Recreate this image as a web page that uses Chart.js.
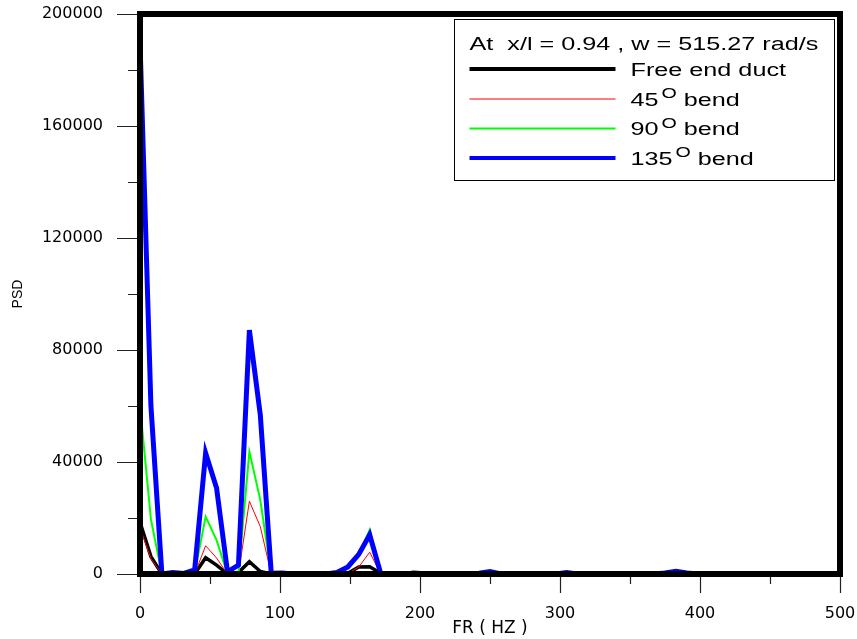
<!DOCTYPE html>
<html>
<head>
<meta charset="utf-8">
<title>PSD</title>
<script src="https://cdn.jsdelivr.net/npm/chart.js@4.4.0/dist/chart.umd.min.js"></script>
<style>
  html, body { margin: 0; padding: 0; background: #fff; }
  canvas { display: block; }
</style>
</head>
<body>
<canvas id="psd" width="857" height="639"></canvas>
<script>
/* ---------- data ---------- */
const freqHz = [
  0, 7.81, 15.63, 23.44, 31.25, 39.06, 46.88, 54.69, 62.5, 70.31,
  78.13, 85.94, 93.75, 101.56, 109.38, 117.19, 125, 132.81, 140.63, 148.44,
  156.25, 164.06, 171.88, 179.69, 187.5, 195.31, 203.13, 210.94, 218.75, 226.56,
  234.38, 242.19, 250, 257.81, 265.63, 273.44, 281.25, 289.06, 296.88, 304.69,
  312.5, 320.31, 328.13, 335.94, 343.75, 351.56, 359.38, 367.19, 375, 382.81,
  390.63, 398.44, 406.25, 414.06, 421.88, 429.69, 437.5, 445.31, 453.13, 460.94,
  468.75, 476.56, 484.38, 492.19, 500
];
const freeEnd = [
  18500, 6200, 0, 0, 0, 0, 5800, 3200, 0, 500,
  4400, 900, 0, 0, 0, 0, 0, 0, 0, 300,
  2500, 2600, 300, 0, 0, 600, 400, 0, 0, 0,
  0, 0, 0, 0, 0, 0, 0, 0, 0, 0,
  0, 300, 0, 0, 0, 0, 0, 0, 0, 0,
  0, 0, 0, 0, 0, 0, 0, 0, 0, 0,
  0, 0, 0, 0, 0
];
const bend45 = [
  16500, 5500, 0, 0, 0, 0, 10100, 5700, 0, 0,
  26000, 16900, 0, 0, 0, 0, 0, 0, 0, 200,
  2500, 7800, 0, 0, 0, 0, 0, 0, 0, 0,
  0, 0, 0, 0, 0, 0, 0, 0, 0, 0,
  0, 0, 0, 0, 0, 0, 0, 0, 0, 0,
  0, 0, 0, 0, 0, 0, 0, 0, 0, 0,
  0, 0, 0, 0, 0
];
const bend90 = [
  60000, 19500, 0, 0, 0, 500, 20500, 12100, 0, 0,
  43700, 26400, 0, 0, 0, 0, 0, 0, 300, 2000,
  6500, 15800, 0, 0, 0, 0, 0, 0, 0, 0,
  0, 0, 0, 0, 0, 0, 0, 0, 0, 0,
  0, 0, 0, 0, 0, 0, 0, 0, 0, 0,
  0, 0, 0, 0, 0, 0, 0, 0, 0, 0,
  0, 0, 0, 0, 0
];
const bend135 = [
  190000, 60000, 0, 500, 200, 1500, 43200, 30700, 800, 3200,
  87100, 56800, 300, 400, 0, 0, 0, 0, 500, 2500,
  7000, 14000, 300, 0, 0, 0, 0, 0, 0, 0,
  0, 300, 900, 0, 0, 0, 0, 0, 0, 500,
  0, 0, 0, 0, 0, 0, 0, 0, 400, 1000,
  400, 0, 0, 0, 0, 0, 0, 0, 0, 0,
  0, 0, 0, 0, 0
];
const seriesLabels = ['Free end duct', '45° bend', '90° bend', '135° bend'];
const legendTitle = 'At  x/l = 0.94 , w = 515.27 rad/s';
const xTitle = 'FR ( HZ )';
const yTitle = 'PSD';

/* ---------- helpers ---------- */
const pts = (arr) => freqHz.map((f, i) => ({ x: f, y: arr[i] }));
const SX = 1.40; // legend text in the source is stretched sideways

function wideText(ctx, str, x, y, font) {
  ctx.save();
  ctx.font = font;
  ctx.translate(x, y);
  ctx.scale(SX, 1);
  ctx.fillText(str, 0, 0);
  const w = ctx.measureText(str).width * SX;
  ctx.restore();
  return w;
}

/* ---------- ticks + heavy frame ---------- */
const frameTicks = {
  id: 'frameTicks',
  afterDatasetsDraw(chart) {
    const { ctx, chartArea: a, scales: { x, y } } = chart;
    ctx.save();
    ctx.strokeStyle = '#222';
    ctx.lineWidth = 1.2;
    ctx.beginPath();
    y.ticks.forEach(t => {
      const py = Math.round(y.getPixelForValue(t.value)) + 0.5;
      const len = t.value % 40000 === 0 ? 20 : 9;
      ctx.moveTo(a.left - 3 - len, py);
      ctx.lineTo(a.left - 3, py);
    });
    x.ticks.forEach(t => {
      const px = Math.round(x.getPixelForValue(t.value)) + 0.5;
      const len = t.value % 100 === 0 ? 16 : 7;
      ctx.moveTo(px, a.bottom + 3);
      ctx.lineTo(px, a.bottom + 3 + len);
    });
    ctx.stroke();
    ctx.lineWidth = 6;
    ctx.strokeStyle = '#000';
    ctx.strokeRect(a.left, a.top, a.right - a.left, a.bottom - a.top);
    ctx.restore();
  }
};

/* ---------- boxed legend ---------- */
const boxLegend = {
  id: 'boxLegend',
  afterDraw(chart) {
    const { ctx, chartArea: a } = chart;
    const bx = a.left + 314.5, by = a.top + 5.5, bw = 380, bh = 161;
    ctx.save();
    ctx.fillStyle = '#fff';
    ctx.fillRect(bx, by, bw, bh);
    ctx.strokeStyle = '#000';
    ctx.lineWidth = 1;
    ctx.strokeRect(bx, by, bw, bh);

    ctx.fillStyle = '#000';
    ctx.textBaseline = 'alphabetic';
    const big = '18px "Liberation Sans", Arial, sans-serif';
    const sup = '14px "Liberation Sans", Arial, sans-serif';
    wideText(ctx, legendTitle, bx + 15, by + 30.5, big);

    const rowY = [69, 99, 128.5, 158];
    chart.data.datasets.forEach((ds, i) => {
      const ry = a.top + rowY[i] - 14;
      ctx.strokeStyle = ds.borderColor;
      ctx.lineWidth = ds.legendWidth;
      ctx.beginPath();
      ctx.moveTo(bx + 15, ry);
      ctx.lineTo(bx + 161, ry);
      ctx.stroke();

      let tx = bx + 176;
      const base = ry + 6.5;
      const m = ds.label.match(/^(\d+)°\s*(.*)$/);
      if (m) {
        tx += wideText(ctx, m[1], tx, base, big) + 3;
        tx += wideText(ctx, 'O', tx, base - 7.5, sup);
        wideText(ctx, ' ' + m[2], tx, base, big);
      } else {
        wideText(ctx, ds.label, tx, base, big);
      }
    });
    ctx.restore();
  }
};

/* ---------- chart ---------- */
const tickFont = { family: '"DejaVu Sans", sans-serif', size: 16 };

new Chart(document.getElementById('psd'), {
  type: 'line',
  data: {
    datasets: [
      { label: seriesLabels[0], data: pts(freeEnd), borderColor: '#000000', borderWidth: 3.5, legendWidth: 4, order: 3 },
      { label: seriesLabels[1], data: pts(bend45), borderColor: '#ff0000', borderWidth: 1, legendWidth: 1.2, order: 2 },
      { label: seriesLabels[2], data: pts(bend90), borderColor: '#00ff00', borderWidth: 2, legendWidth: 2, order: 1 },
      { label: seriesLabels[3], data: pts(bend135), borderColor: '#0000ff', borderWidth: 5, legendWidth: 4, order: 0 }
    ]
  },
  options: {
    responsive: false,
    animation: false,
    layout: { padding: { top: 14, right: 17, bottom: 0, left: 0 }, autoPadding: false },
    elements: {
      point: { radius: 0 },
      line: { tension: 0, fill: false, borderJoinStyle: 'miter' }
    },
    plugins: {
      legend: { display: false },
      tooltip: { enabled: false }
    },
    scales: {
      x: {
        type: 'linear',
        min: 0, max: 500,
        grid: { display: false, drawTicks: false },
        border: { display: false },
        ticks: {
          stepSize: 50, color: '#000', font: tickFont, padding: 30, maxRotation: 0,
          callback: v => (v % 100 === 0 ? String(v) : '')
        },
        title: {
          display: true, text: xTitle, color: '#000',
          font: { family: '"DejaVu Sans", sans-serif', size: 17 },
          padding: { top: 0, bottom: 0 }
        },
        afterFit(scale) {
          scale.height = 65;
          scale.paddingLeft = 0; scale.paddingRight = 0;
        }
      },
      y: {
        min: 0, max: 200000,
        grid: { display: false, drawTicks: false },
        border: { display: false },
        ticks: {
          stepSize: 20000, color: '#000', font: tickFont, padding: 37,
          callback: v => (v % 40000 === 0 ? String(v) : '')
        },
        title: {
          display: true, text: yTitle, color: '#000',
          font: { family: '"Liberation Sans", Arial, sans-serif', size: 14 },
          padding: { top: 10, bottom: 0 }
        },
        afterFit(scale) {
          scale.width = 140;
          scale.paddingTop = 0; scale.paddingBottom = 0;
        }
      }
    }
  },
  plugins: [frameTicks, boxLegend]
});
</script>
</body>
</html>
